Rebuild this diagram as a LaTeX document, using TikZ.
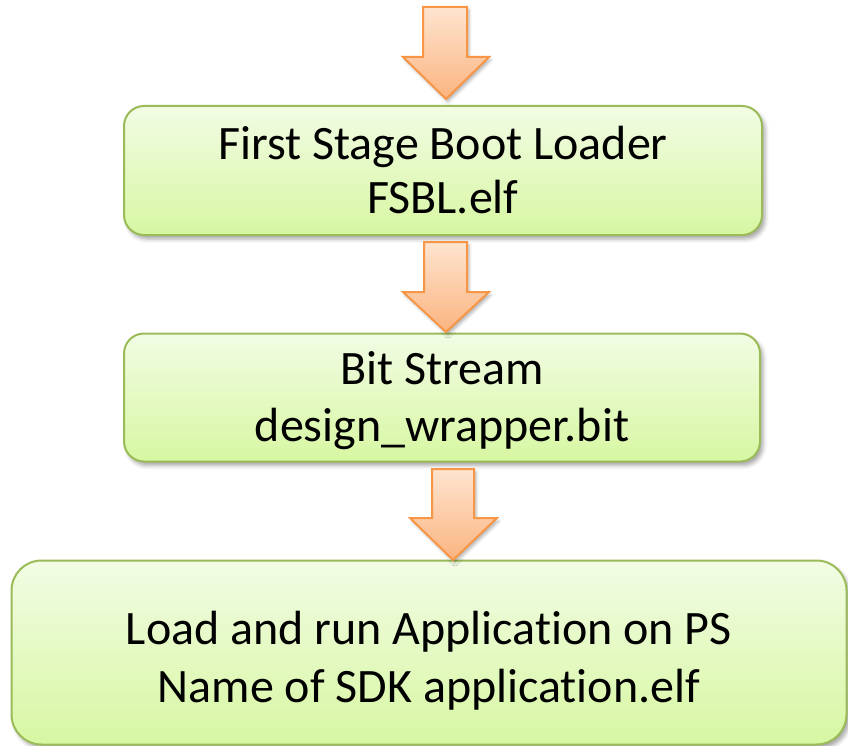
\documentclass[tikz,border=0pt]{standalone}
\usepackage{fontspec}
\setmainfont[Ligatures=NoCommon]{Carlito}
\usetikzlibrary{shadows.blur}
\definecolor{boxtop}{HTML}{F2FCE4}
\definecolor{boxbot}{HTML}{D7F7A2}
\definecolor{boxline}{HTML}{9BBB59}
\definecolor{arrtop}{HTML}{FEE4CF}
\definecolor{arrbot}{HTML}{FBB480}
\definecolor{arrline}{HTML}{F79646}
\tikzset{
  stagebox/.style={draw=boxline, line width=2pt, top color=boxtop, bottom color=boxbot,
    rounded corners=20pt,
    blur shadow={shadow xshift=3pt, shadow yshift=-4pt, shadow blur radius=4pt, shadow opacity=35}},
  stagetext/.style={align=center, inner sep=0pt, font=\fontsize{48}{#1}\selectfont},
  stagetext/.default=54,
  blockarrow/.style={draw=arrline, line width=2pt, top color=arrtop, bottom color=arrbot, line join=miter,
    blur shadow={shadow xshift=2pt, shadow yshift=-3pt, shadow blur radius=3pt, shadow opacity=30}}
}
\begin{document}
\begin{tikzpicture}[x=1pt,y=-1pt]
\useasboundingbox (0,0) rectangle (848,746);
\node[stagebox, minimum width=638pt, minimum height=129pt] (fsbl) at (443,170.5) {};
\node[stagetext] (fsbltext) at (fsbl.center) {First Stage Boot Loader\\FSBL.elf};
\node[stagebox, minimum width=636pt, minimum height=128pt] (bit) at (442,397.5) {};
\node[stagetext=57] (bittext) at ([yshift=-3pt]bit.center) {Bit Stream\\design\_wrapper.bit};
\node[stagebox, rounded corners=30pt, minimum width=835pt, minimum height=184pt] (app) at (429,652.5) {};
\node[stagetext=58] (apptext) at ([yshift=-8pt]app.center) {Load and run Application on PS\\Name of SDK application.elf};
\draw[blockarrow] (423,7) -- (467,7) -- (467,57) -- (489,57) -- (446,99) -- (403,57) -- (423,57) -- cycle;
\draw[blockarrow] (424,242) -- (467,242) -- (467,292) -- (489,292) -- (446,332) -- (403,292) -- (424,292) -- cycle;
\draw[blockarrow] (432,469) -- (474,469) -- (474,518) -- (497,518) -- (453,560) -- (410,518) -- (432,518) -- cycle;
\end{tikzpicture}
\end{document}
